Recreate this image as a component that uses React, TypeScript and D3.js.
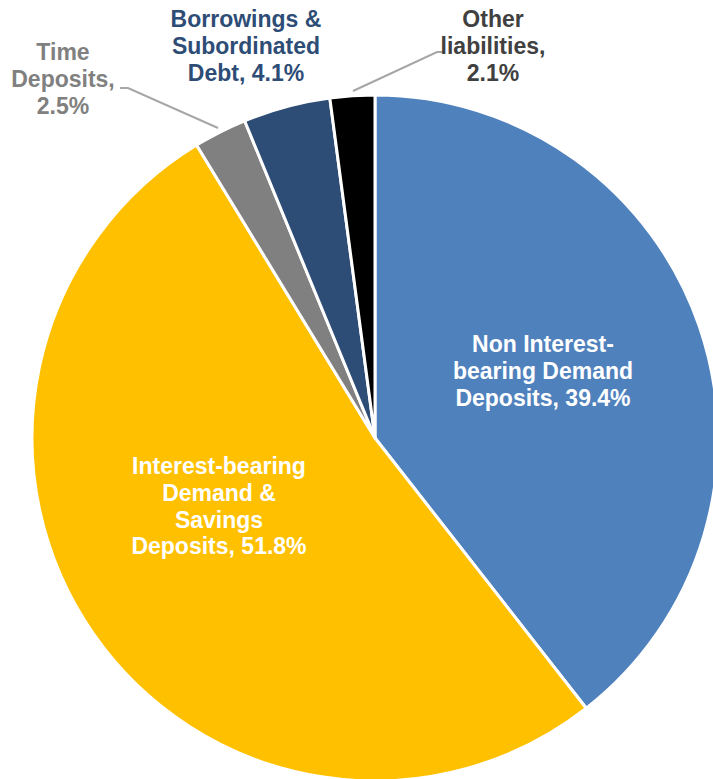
import React from "react";
import * as d3 from "d3";

const categories = [
  "Non Interest-bearing Demand Deposits",
  "Interest-bearing Demand & Savings Deposits",
  "Time Deposits",
  "Borrowings & Subordinated Debt",
  "Other liabilities",
];
const values = [39.4, 51.8, 2.5, 4.1, 2.1];
const colors = ["#4F81BD", "#FFC000", "#808080", "#2E4D76", "#000000"];
const labelLines = [
  ["Non Interest-", "bearing Demand", "Deposits, 39.4%"],
  ["Interest-bearing", "Demand &", "Savings", "Deposits, 51.8%"],
  ["Time", "Deposits,", "2.5%"],
  ["Borrowings &", "Subordinated", "Debt, 4.1%"],
  ["Other", "liabilities,", "2.1%"],
];
const labelColors = ["#FFFFFF", "#FFFFFF", "#808080", "#2E4D76", "#404040"];

export default function App() {
  const W = 713, H = 779;
  const cx = 375, cy = 438, r = 343;
  const pie = d3.pie<number>().sort(null).value((d) => d);
  const arcs = pie(values);
  const arc = d3.arc<d3.PieArcDatum<number>>().innerRadius(0).outerRadius(r);
  const labelPos: [number, number][] = [
    [543, 352],
    [219, 474],
    [63, 60],
    [246, 27],
    [493, 27],
  ];
  const lh = 26.8;
  const leaders: [number, number][][] = [
    [],
    [],
    [[120, 88], [128, 88], [218, 128]],
    [],
    [[353, 91], [437, 52], [444, 52]],
  ];
  return (
    <svg width={W} height={H} style={{ position: "absolute", left: 0, top: 0 }}>
      <rect width={W} height={H} fill="#fff" />
      <g transform={`translate(${cx},${cy})`}>
        {arcs.map((a, i) => (
          <path key={categories[i]} d={arc(a) || ""} fill={colors[i]} stroke="#fff" strokeWidth={3} strokeLinejoin="round" />
        ))}
      </g>
      {leaders.map((pts, i) =>
        pts.length ? (
          <polyline key={"l" + i} points={pts.map((p) => p.join(",")).join(" ")} fill="none" stroke="#A6A6A6" strokeWidth={2} />
        ) : null
      )}
      {labelLines.map((lines, i) => (
        <text
          key={"t" + i}
          x={labelPos[i][0]}
          y={labelPos[i][1]}
          textAnchor="middle"
          fontFamily="Liberation Sans, Arial, sans-serif"
          fontWeight="bold"
          fontSize={23}
          fill={labelColors[i]}
        >
          {lines.map((l, j) => (
            <tspan key={j} x={labelPos[i][0]} y={labelPos[i][1] + j * lh}>
              {l}
            </tspan>
          ))}
        </text>
      ))}
    </svg>
  );
}
